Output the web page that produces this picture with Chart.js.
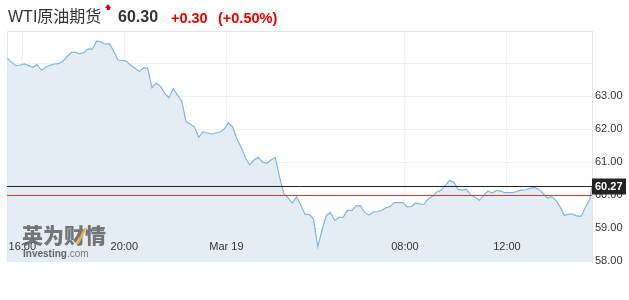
<!DOCTYPE html>
<html lang="zh">
<head>
<meta charset="UTF-8">
<title>WTI原油期货</title>
<script src="https://cdn.jsdelivr.net/npm/chart.js@4.4.0/dist/chart.umd.min.js"></script>
<style>
    body { margin: 0; background: #fff; }
    #wrap { position: relative; width: 629px; height: 300px; overflow: hidden;
            font-family: "Liberation Sans", Arial, "Noto Sans CJK SC", sans-serif; }
    #chart { position: absolute; left: 0; top: 0; }
    .hd { position: absolute; top: 9px; font-size: 16px; line-height: 16px; white-space: nowrap; }
    .name { left: 8px; color: #333; }
    .last { left: 118px; color: #333; font-weight: bold; }
    .chg { color: #e60000; font-size: 14.5px; font-weight: bold; top: 10px; }
    .arrow { position: absolute; left: 105px; top: 4px; width: 0; height: 0;
             border-left: 3.5px solid transparent; border-right: 3.5px solid transparent;
             border-bottom: 4px solid #e60000; }
    .arrow:after { content: ""; position: absolute; left: -1.5px; top: 4px; width: 3px; height: 2px; background: #e60000; }
    .wm { position: absolute; left: 22px; top: 223px; color: rgba(95, 95, 95, 0.85);
          font-family: "Noto Sans CJK SC", sans-serif; font-weight: 900; font-size: 21px; line-height: 22px; }
    .slash { position: absolute; left: 80px; top: 228px; width: 3px; height: 16px; background: rgba(235, 180, 60, 0.9);
             transform: skewX(-28deg); }
    .wm2 { position: absolute; left: 23px; top: 248px; font-size: 10px; line-height: 11px; color: rgba(85, 85, 85, 0.9); }
    .wm2 b { font-weight: bold; }
    .wm2 span { color: rgba(110, 110, 110, 0.9); }
</style>
</head>
<body>
<div id="wrap">
    <canvas id="chart" width="629" height="300"></canvas>
    <span class="hd name">WTI原油期货</span>
    <span class="arrow"></span>
    <span class="hd last">60.30</span>
    <span class="hd chg" style="left:171px">+0.30</span>
    <span class="hd chg" style="left:218px">(+0.50%)</span>
    <div class="wm">英为财情</div>
    <div class="slash"></div>
    <div class="wm2"><b>Investing</b><span>.com</span></div>
</div>
<script>
    // 10-minute closes, starting 15:25, market break 05:00-06:00 skipped
    const startMinutes = -35;   // minutes relative to 16:00 (15:25)
    const stepMinutes = 10;
    const breakFrom = 13 * 60;  // 05:00 next day
    const breakTo = 14 * 60;    // 06:00 next day

    const prices = [
        64.14, 64.02, 63.92, 63.94, 63.97, 63.92, 63.87, 63.95, 63.78, 63.87,
        63.93, 63.97, 63.98, 64.05, 64.19, 64.32, 64.32, 64.28, 64.32, 64.43,
        64.42, 64.67, 64.64, 64.57, 64.59, 64.36, 64.09, 64.08, 64.05, 63.93,
        63.84, 63.74, 63.85, 63.84, 63.25, 63.39, 63.30, 63.08, 62.95, 63.23,
        63.02, 62.85, 62.23, 62.15, 62.06, 61.75, 61.92, 61.88, 61.85, 61.88,
        61.91, 62.00, 62.19, 62.06, 61.70, 61.44, 61.12, 60.91, 61.06, 61.14,
        61.00, 60.96, 61.06, 61.14, 60.55, 60.05, 59.91, 59.76, 59.94, 59.70,
        59.42, 59.41, 59.27, 58.43, 58.94, 59.38, 59.47, 59.23, 59.32, 59.33,
        59.55, 59.53,
        59.67, 59.68, 59.48, 59.39, 59.48, 59.50, 59.53, 59.61,
        59.65, 59.77, 59.77, 59.77, 59.64, 59.65, 59.76, 59.73, 59.72, 59.89,
        59.96, 60.09, 60.14, 60.30, 60.44, 60.39, 60.17, 60.15, 60.17, 60.00,
        59.93, 59.84, 59.98, 60.12, 60.06, 60.14, 60.12, 60.07, 60.07, 60.07,
        60.12, 60.15, 60.16, 60.21, 60.23, 60.17, 60.05, 59.91, 59.95, 59.84,
        59.64, 59.38, 59.42, 59.42, 59.36, 59.36, 59.65, 59.88
    ];
    const lastMinutes = 23 * 60 + 20;  // 15:20 next day
    const lastPrice = 60.27;
    const prevClose = 60.00;

    const xTickMinutes = [0, 4 * 60, 8 * 60, 16 * 60, 20 * 60];
    const xTickLabels = ['16:00', '20:00', 'Mar 19', '08:00', '12:00'];
    const yTicks = [58, 59, 60, 61, 62, 63, 64];

    // trading hours on a compressed axis (break hour removed)
    function axisHours(m) {
        return (m >= breakTo ? m - 60 : m) / 60;
    }

    const points = [];
    let m = startMinutes;
    for (let i = 0; i < prices.length; i++) {
        if (m >= breakFrom && m < breakTo) m += 60;
        points.push({x: axisHours(m), y: prices[i]});
        m += stepMinutes;
    }
    points.push({x: axisHours(lastMinutes), y: lastPrice});

    const frameColor = '#dfe5ea';
    const gridColor = '#eef2f5';

    const overlay = {
        id: 'overlay',
        beforeDatasetsDraw(chart) {
            const {ctx, chartArea: a} = chart;
            ctx.save();
            ctx.strokeStyle = frameColor;
            ctx.lineWidth = 1;
            ctx.beginPath();
            ctx.moveTo(a.left + 0.5, a.bottom);
            ctx.lineTo(a.left + 0.5, a.top + 0.5);
            ctx.lineTo(a.right, a.top + 0.5);
            ctx.stroke();
            ctx.restore();
        },
        afterDatasetsDraw(chart) {
            const {ctx, chartArea: a, scales} = chart;
            const xs = scales.x, ys = scales.y;
            ctx.save();
            // x labels drawn inside the plot
            ctx.font = '11px "Liberation Sans", Arial, sans-serif';
            ctx.fillStyle = '#333';
            ctx.textAlign = 'center';
            ctx.textBaseline = 'middle';
            xTickMinutes.forEach((mm, i) => {
                ctx.fillText(xTickLabels[i], xs.getPixelForValue(axisHours(mm)), a.bottom - 15);
            });
            // previous close and last price lines
            const yPrev = Math.round(ys.getPixelForValue(prevClose)) + 0.5;
            const yLast = Math.round(ys.getPixelForValue(lastPrice)) + 0.5;
            ctx.lineWidth = 1;
            ctx.strokeStyle = '#cc3b35';
            ctx.beginPath();
            ctx.moveTo(a.left, yPrev);
            ctx.lineTo(a.right, yPrev);
            ctx.stroke();
            ctx.strokeStyle = '#222';
            ctx.beginPath();
            ctx.moveTo(a.left, yLast);
            ctx.lineTo(a.right, yLast);
            ctx.stroke();
            // last price tag
            ctx.fillStyle = '#222';
            ctx.fillRect(a.right, yLast - 8, 34, 16);
            ctx.fillStyle = '#fff';
            ctx.font = 'bold 11px "Liberation Sans", Arial, sans-serif';
            ctx.textAlign = 'left';
            ctx.fillText(lastPrice.toFixed(2), a.right + 3, yLast + 0.5);
            ctx.restore();
        }
    };

    new Chart(document.getElementById('chart').getContext('2d'), {
        type: 'line',
        data: {
            datasets: [{
                data: points,
                borderColor: '#86b5dc',
                backgroundColor: '#e4edf4',
                borderWidth: 1.2,
                fill: 'start',
                pointRadius: 0,
                tension: 0
            }]
        },
        options: {
            responsive: false,
            animation: false,
            devicePixelRatio: 1,
            layout: {padding: {top: 31, left: 7, bottom: 38, right: 0}},
            plugins: {legend: {display: false}, tooltip: {enabled: false}},
            scales: {
                x: {
                    type: 'linear',
                    min: -0.6,
                    max: axisHours(lastMinutes),
                    afterBuildTicks: s => { s.ticks = xTickMinutes.map(mm => ({value: axisHours(mm)})); },
                    ticks: {display: false},
                    grid: {color: gridColor, drawTicks: false},
                    border: {display: false}
                },
                y: {
                    position: 'right',
                    min: 57.97,
                    max: 64.97,
                    afterBuildTicks: s => { s.ticks = yTicks.map(v => ({value: v})); },
                    afterFit: s => { s.width = 37; },
                    ticks: {
                        padding: 3,
                        color: '#333',
                        font: {family: '"Liberation Sans", Arial, sans-serif', size: 11},
                        callback: v => v === 64 ? '' : v.toFixed(2)
                    },
                    grid: {color: gridColor, drawTicks: false},
                    border: {display: true, color: frameColor}
                }
            }
        },
        plugins: [overlay]
    });
</script>
</body>
</html>
